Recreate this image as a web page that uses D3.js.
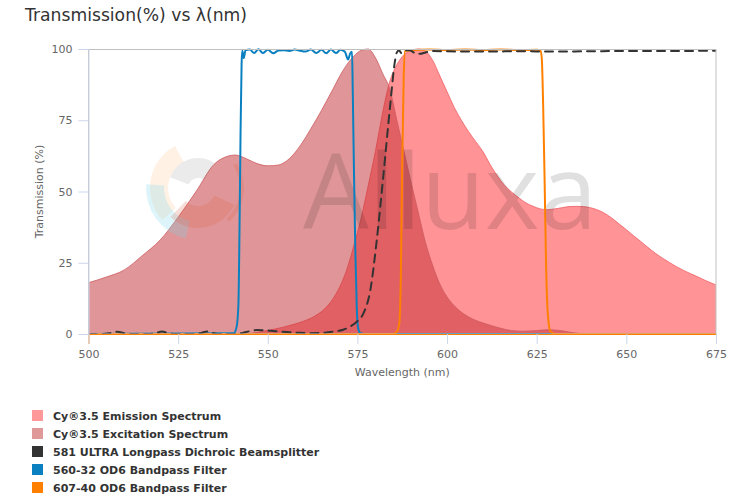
<!DOCTYPE html>
<html>
<head>
<meta charset="utf-8">
<script src="https://cdn.jsdelivr.net/npm/d3@7/dist/d3.min.js"></script>
<style>
html,body{margin:0;padding:0;background:#fff;}
svg{display:block;}
</style>
</head>
<body>
<svg id="chart" width="731" height="502"></svg>
<script>
// ---------- DATA ----------
const chartTitle = "Transmission(%) vs \u03bb(nm)";
const xTicks = [500, 525, 550, 575, 600, 625, 650, 675];
const yTicks = [0, 25, 50, 75, 100];
const xTitle = "Wavelength (nm)";
const yTitle = "Transmission (%)";

const seriesNames = [
  "Cy\u00ae3.5 Emission Spectrum",
  "Cy\u00ae3.5 Excitation Spectrum",
  "581 ULTRA Longpass Dichroic Beamsplitter",
  "560-32 OD6 Bandpass Filter",
  "607-40 OD6 Bandpass Filter"
];

const emissionNm = [500,540,545,548,551,554,557,560,563,566,569,572,574,576,578,580,582,584,586,588,590,592,594,596,598,600,602,604,606,608,610,612,614,616,618,620,622,624,626,628,630,632,634,636,638,640,642,644,646,648,650,652,654,656,658,660,662,664,666,668,670,672,675];
const emissionT  = [0,0,0.2,0.8,1.5,2.3,3.3,4.5,6.2,9,14,22.5,31,40.5,52,64,77.5,88.5,94.5,98,99.5,100,99.2,96,90.5,85,79.5,75,71,67.5,64,59.5,55.5,52.2,49.8,47.8,46,44.8,43.9,43.6,43.9,44.3,44.7,44.8,44.7,44.3,43.5,42.3,40.6,38.6,36.6,34.5,32.5,30.4,28.4,26.7,25.1,23.6,22.3,21.1,20,18.8,17.2];

const excitationNm = [500,505,510,515,520,525,530,535,538,541,544,547,550,553,556,559,562,565,568,571,574,576,578,580,582,584,586,588,590,592,594,596,598,600,603,606,609,612,615,618,621,625,628,631,634,637,640,675];
const excitationT  = [18,20,22.5,27.5,33,41,50,59.5,62,62.8,61.5,59.8,59,59.3,61.5,66,72,78.5,85.5,92.5,97.5,99.5,100,97,91.5,86,75,64,53,42.5,32,24,17.5,13,8.7,6,4.3,3.1,2,1.2,1,1.2,1.5,1.3,0.7,0.2,0,0];

const longpassNm = [500,504,506,508,510,512,517,519,520.5,522,524,530,531.5,533,534.5,536,541,543,545,547,549,551,553,556,559,562,565,568,571,573,575,576.7,578.6,580.4,582.3,584.1,585.5,586,586.6,587.2,588,589.5,591,592.5,594,596,600,610,620,630,640,650,660,675];
const longpassT  = [0,0,0.3,0.8,0.3,0,0,0.4,0.9,0.4,0,0,0.4,0.9,0.4,0,0,0.4,1,1.4,1.3,1.1,0.9,0.6,0.4,0.3,0.4,0.8,1.5,2.6,4.5,7.3,15.4,33,56.5,79.8,96,98.8,99.6,98.6,99.5,99.6,98.6,98.3,98.8,99.3,99.2,99.1,99.2,99.1,99.2,99.3,99.3,99.4];

const bp560Nm = [500,540.5,541.3,541.8,542.1,542.4,542.7,542.9,543.3,543.8,545,546.2,547.4,548.6,550,551.5,553,554.5,556,557.5,559,560.5,562,563.5,565,566.3,567.6,569,570.3,571.5,572.4,573,573.5,573.7,574,574.4,574.8,575.2,575.8,577,675];
const bp560T  = [0,0.3,2.5,10,35,70,95,99.5,96.8,99.6,99.8,98.6,99.9,98.6,99.7,98.5,99.5,99.6,99.3,99.8,99.4,99.1,99.8,98.6,99.7,98.5,99.8,98.6,99.7,99,96.3,98.5,99,85,60,30,10,2,0.3,0,0];

const bp607Nm = [500,585,586,586.7,587.1,587.5,587.9,588.3,590,595,600,605,610,615,620,625,626,626.4,626.8,627.2,627.6,628.1,628.8,630,675];
const bp607T  = [0,0,0.8,4,20,60,90,99.3,99.6,99.8,99.6,99.8,99.6,99.8,99.6,99.7,99.5,97,80,54,25,7,1,0,0];

const watermarkText = "Alluxa";

// ---------- LAYOUT ----------
const svg = d3.select("#chart");
const W = 731, H = 502;
const plot = {left: 88.5, right: 716, top: 49, bottom: 334};
const FONT = "'DejaVu Sans', Verdana, sans-serif";

svg.append("rect").attr("width", W).attr("height", H).attr("fill", "#fff");

const x = d3.scaleLinear().domain([500, 675]).range([plot.left, plot.right]);
const y = d3.scaleLinear().domain([0, 100]).range([plot.bottom, plot.top]);

// title
svg.append("text")
  .attr("x", 25).attr("y", 21)
  .attr("font-family", FONT).attr("font-size", 17.2)
  .attr("fill", "#333")
  .text(chartTitle);

// clip
svg.append("clipPath").attr("id", "clip")
  .append("rect").attr("x", plot.left).attr("y", plot.top - 2)
  .attr("width", plot.right - plot.left).attr("height", plot.bottom - plot.top + 2);

const zip = (a, b) => a.map((v, i) => [v, b[i]]);

const g = svg.append("g").attr("clip-path", "url(#clip)");

const area = d3.area().x(d => x(d[0])).y0(y(0)).y1(d => y(d[1])).curve(d3.curveMonotoneX);
const lineSmooth = d3.line().x(d => x(d[0])).y(d => y(d[1])).curve(d3.curveMonotoneX);

// emission area
const emi = zip(emissionNm, emissionT);
g.append("path").datum(emi).attr("d", area).attr("fill", "rgb(255,40,45)").attr("fill-opacity", 0.5);
g.append("path").datum(emi).attr("d", lineSmooth).attr("fill", "none").attr("stroke", "rgb(240,95,100)").attr("stroke-width", 1).attr("stroke-opacity", 0.8);

// excitation area
const exc = zip(excitationNm, excitationT);
g.append("path").datum(exc).attr("d", area).attr("fill", "rgb(193,45,49)").attr("fill-opacity", 0.5);
g.append("path").datum(exc).attr("d", lineSmooth).attr("fill", "none").attr("stroke", "rgb(205,90,95)").attr("stroke-width", 1).attr("stroke-opacity", 0.8);

// watermark logo (approximate)
const wm = svg.append("g").attr("pointer-events", "none");
const arc = d3.arc();
const cx = 198, cy = 188;
const logoParts = [
  {r0: 30, r1: 48, a0: -2.3, a1: -0.5, c: "rgba(255,190,130,0.22)"},
  {r0: 34, r1: 52, a0: -2.9, a1: -1.5, c: "rgba(120,215,235,0.25)"},
  {r0: 10, r1: 30, a0: -1.2, a1: 0.6, c: "rgba(120,120,120,0.15)"},
  {r0: 18, r1: 40, a0: 2.0, a1: 3.9, c: "rgba(220,90,60,0.2)"},
  {r0: 42, r1: 46, a0: 1.0, a1: 2.4, c: "rgba(220,90,60,0.2)"}
];
logoParts.forEach(p => {
  wm.append("path")
    .attr("transform", `translate(${cx},${cy})`)
    .attr("d", arc({innerRadius: p.r0, outerRadius: p.r1, startAngle: p.a0, endAngle: p.a1}))
    .attr("fill", p.c);
});
wm.append("text")
  .attr("x", 303).attr("y", 229)
  .attr("font-family", "'Open Sans', sans-serif").attr("font-size", 104)
  .attr("fill", "rgba(0,0,0,0.12)")
  .text(watermarkText);

// filter lines
const g2 = svg.append("g").attr("clip-path", "url(#clip)");
g2.append("path").datum(zip(bp560Nm, bp560T)).attr("d", lineSmooth)
  .attr("fill", "none").attr("stroke", "#0a80c0").attr("stroke-width", 2).attr("stroke-linejoin", "round");
g2.append("path").datum(zip(bp607Nm, bp607T)).attr("d", lineSmooth)
  .attr("fill", "none").attr("stroke", "#ff8000").attr("stroke-width", 2).attr("stroke-linejoin", "round");
g2.append("path").datum(zip(longpassNm, longpassT)).attr("d", lineSmooth)
  .attr("fill", "none").attr("stroke", "#333").attr("stroke-width", 2)
  .attr("stroke-dasharray", "8,6").attr("stroke-linecap", "round").attr("stroke-linejoin", "round");

// plot border
svg.append("rect")
  .attr("x", plot.left).attr("y", plot.top + 0.5)
  .attr("width", plot.right - plot.left).attr("height", plot.bottom - plot.top - 0.5)
  .attr("fill", "none").attr("stroke", "#c0c0c0").attr("stroke-width", 1);

// axes
const xAxis = d3.axisBottom(x).tickValues(xTicks).tickSize(10).tickPadding(6);
const yAxis = d3.axisLeft(y).tickValues(yTicks).tickSize(10).tickPadding(6);

const gx = svg.append("g").attr("transform", `translate(0,${plot.bottom})`).call(xAxis);
const gy = svg.append("g").attr("transform", `translate(${plot.left},0)`).call(yAxis);
[gx, gy].forEach(a => {
  a.select(".domain").attr("stroke", "#ccd6eb");
  a.selectAll(".tick line").attr("stroke", "#ccd6eb");
  a.selectAll(".tick text").attr("fill", "#666").attr("font-family", FONT).attr("font-size", 11);
});
gx.select(".domain").attr("stroke", "#ff8000").attr("stroke-width", 1);

svg.append("text")
  .attr("x", (plot.left + plot.right) / 2).attr("y", 376)
  .attr("text-anchor", "middle")
  .attr("font-family", FONT).attr("font-size", 11).attr("fill", "#666")
  .text(xTitle);
svg.append("text")
  .attr("transform", `translate(43,${(plot.top + plot.bottom) / 2}) rotate(-90)`)
  .attr("text-anchor", "middle")
  .attr("font-family", FONT).attr("font-size", 11).attr("fill", "#666")
  .text(yTitle);

// legend
const legendColors = ["rgb(255,153,153)", "rgb(224,153,153)", "#333333", "#0a80c0", "#ff8000"];
const lg = svg.append("g");
seriesNames.forEach((name, i) => {
  const cyL = 415.5 + i * 18;
  lg.append("rect").attr("x", 32).attr("y", cyL - 5.5).attr("width", 11).attr("height", 11)
    .attr("fill", legendColors[i]);
  lg.append("text").attr("x", 53).attr("y", cyL + 4.5)
    .attr("font-family", FONT).attr("font-size", 11).attr("font-weight", "bold")
    .attr("fill", "#333").text(name);
});
</script>
</body>
</html>
